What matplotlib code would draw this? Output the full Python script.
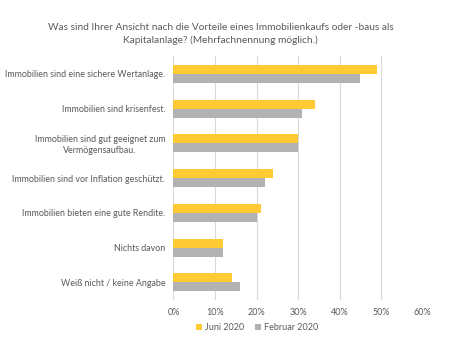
import matplotlib.pyplot as plt
import numpy as np

categories = [
    "Immobilien sind eine sichere Wertanlage.",
    "Immobilien sind krisenfest.",
    "Immobilien sind gut geeignet zum\nVermögensaufbau.",
    "Immobilien sind vor Inflation geschützt.",
    "Immobilien bieten eine gute Rendite.",
    "Nichts davon",
    "Weiß nicht / keine Angabe",
]
juni_2020 = [49, 34, 30, 24, 21, 12, 14]
februar_2020 = [45, 31, 30, 22, 20, 12, 16]
ticks = [0, 10, 20, 30, 40, 50, 60]

plt.rcParams["font.family"] = ["Lato", "DejaVu Sans"]
text_col = "#595959"

fig = plt.figure(figsize=(4.53, 3.38), dpi=100)
ax = fig.add_axes([0.383, 0.113, 0.55, 0.72])

y = np.arange(len(categories))
h = 0.26
ax.barh(y - h / 2, juni_2020, height=h, color="#FFCA33", label="Juni 2020", zorder=3)
ax.barh(y + h / 2, februar_2020, height=h, color="#B2B2B2", label="Februar 2020", zorder=3)

ax.set_ylim(len(categories) - 0.5, -0.5)
ax.set_xlim(0, 60)
ax.set_xticks(ticks)
ax.set_xticklabels([f"{t}%" for t in ticks], fontsize=6.5, color=text_col)
ax.set_yticks(y)
ax.set_yticklabels(categories, fontsize=6.4, color=text_col, ha="right",
                   multialignment="center")
ax.tick_params(length=0, pad=6)
ax.grid(axis="x", color="#D9D9D9", lw=0.8, zorder=0)
for s in ax.spines.values():
    s.set_visible(False)

fig.text(0.487, 0.90, "Was sind Ihrer Ansicht nach die Vorteile eines Immobilienkaufs oder -baus als\nKapitalanlage? (Mehrfachnennung möglich.)",
         ha="center", va="center", fontsize=7.3, color=text_col, linespacing=1.4)

fig.legend(loc="center", bbox_to_anchor=(0.567, 0.03), ncol=2, frameon=False,
           fontsize=6.5, labelcolor=text_col, handlelength=0.7, handleheight=0.7,
           handletextpad=0.3, columnspacing=1.2)

fig.savefig("out.png", dpi=100)
